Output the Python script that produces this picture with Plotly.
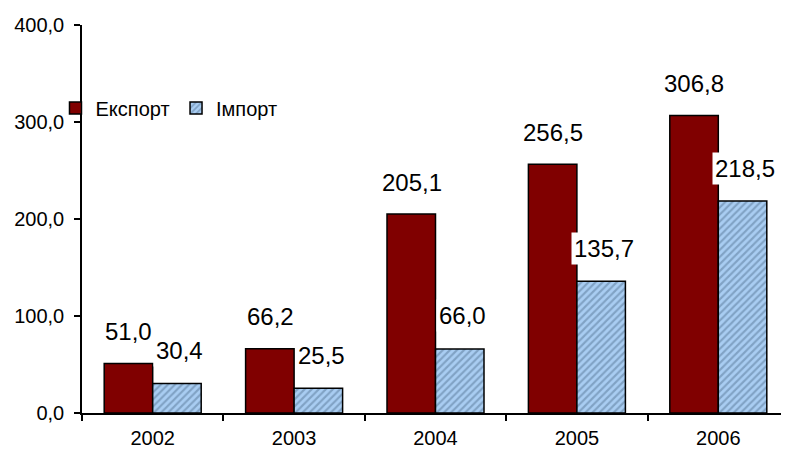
import plotly.graph_objects as go

years = ["2002", "2003", "2004", "2005", "2006"]
export_vals = [51.0, 66.2, 205.1, 256.5, 306.8]
import_vals = [30.4, 25.5, 66.0, 135.7, 218.5]
y_ticks = [0, 100, 200, 300, 400]

FONT = "Liberation Sans, Arial, sans-serif"

fig = go.Figure()
fig.add_trace(go.Bar(
    name="Експорт", x=years, y=export_vals, legend="legend",
    marker=dict(color="#800000", line=dict(color="black", width=1.5)),
))
fig.add_trace(go.Bar(
    name="Імпорт", x=years, y=import_vals, legend="legend2",
    marker=dict(
        color="#9ec6ef",
        line=dict(color="black", width=1.5),
        pattern=dict(shape="/", fgcolor="#587897", bgcolor="#a9cdf2", size=5, solidity=0.42),
    ),
))

def fmt(v):
    return f"{v:.1f}".replace(".", ",")

for i, yr in enumerate(years):
    fig.add_annotation(x=i, y=export_vals[i], text=fmt(export_vals[i]), showarrow=False,
                       xshift=-24, yshift=32, yanchor="middle", bgcolor="white", borderpad=2,
                       font=dict(family=FONT, size=24, color="black"))
    fig.add_annotation(x=i, y=import_vals[i], text=fmt(import_vals[i]), showarrow=False,
                       xshift=27, yshift=33, yanchor="middle", bgcolor="white", borderpad=2,
                       font=dict(family=FONT, size=24, color="black"))

legend_common = dict(orientation="h", yanchor="middle", xanchor="left", y=0.786,
                     font=dict(family=FONT, size=20, color="black"),
                     bgcolor="rgba(0,0,0,0)", itemwidth=30)

fig.update_layout(
    width=781, height=446,
    margin=dict(l=74, r=0, t=17, b=41, autoexpand=False),
    paper_bgcolor="white", plot_bgcolor="white",
    barmode="group", bargap=0.314, bargroupgap=0,
    separators=", ",
    font=dict(family=FONT, size=20, color="black"),
    legend=dict(x=-0.0375, **legend_common),
    legend2=dict(x=0.133, **legend_common),
    showlegend=True,
)
fig.update_yaxes(range=[0, 400], tickvals=y_ticks, tickformat=".1f",
                 showgrid=False, zeroline=False, showline=True, linecolor="black", linewidth=1.5,
                 ticks="outside", ticklen=6, tickcolor="black", tickwidth=1.5,
                 ticklabelstandoff=6,
                 tickfont=dict(family=FONT, size=20))
fig.update_xaxes(type="category", range=[-0.5, 4.5], showgrid=False, showline=True,
                 linecolor="black", linewidth=1.5,
                 ticks="outside", tickson="boundaries", ticklen=6, tickcolor="black", tickwidth=1.5,
                 ticklabelstandoff=6,
                 tickfont=dict(family=FONT, size=20))

fig.write_html("out.html")
